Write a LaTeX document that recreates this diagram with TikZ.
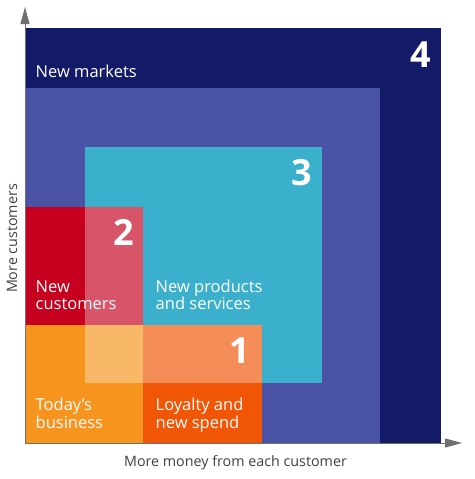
\documentclass[tikz,border=0pt]{standalone}
\usepackage{fontspec}
\setmainfont{Open Sans}
\usetikzlibrary{arrows.meta}
\definecolor{navyq}{RGB}{19,27,105}
\definecolor{midq}{RGB}{74,83,165}
\definecolor{cyanq}{RGB}{59,176,205}
\definecolor{redq}{RGB}{198,0,30}
\definecolor{orangeq}{RGB}{247,148,30}
\definecolor{dorangeq}{RGB}{240,86,5}
\definecolor{axisgray}{RGB}{112,112,112}
\definecolor{axistext}{RGB}{64,64,64}
\begin{document}
\begin{tikzpicture}[x=1pt,y=-1pt,
  lbl/.style={text=white,font=\fontsize{16.5}{18}\selectfont,inner sep=0,anchor=base west},
  num/.style={text=white,font=\fontsize{36}{36}\selectfont\bfseries,inner sep=0,anchor=base east},
  axisline/.style={draw=axisgray,line width=1pt,-{Triangle[length=17pt,width=9pt]}},
  axlbl/.style={text=axistext,font=\fontsize{14.3}{16}\selectfont,inner sep=0,anchor=base},
  overlay/.style={fill=white,opacity=0.33}]
\useasboundingbox[fill=white] (0,0) rectangle (474,479);
% squares
\fill[navyq] (25,28) rectangle (441,443);
\fill[midq] (25,88) rectangle (380,443);
\fill[cyanq] (85,147) rectangle (322,383);
\fill[redq] (25,207) rectangle (143,325);
\fill[orangeq] (25,325) rectangle (143,443);
\fill[dorangeq] (143,325) rectangle (262,443);
\fill[overlay] (85,207) rectangle (143,383);
\fill[overlay] (143,325) rectangle (262,383);
% axes
\coordinate (o) at (25,443);
\coordinate (ytip) at (25,7);
\coordinate (xtip) at (462,443);
\draw[axisline] (o) -- (ytip);
\draw[axisline] (o) -- (xtip);
\node[axlbl] (xl) at (235.5,466) {More money from each customer};
\node[axlbl,rotate=90] (yl) at (17,238.5) {More customers};
% labels
\node[lbl] (nm) at (35.5,77) {New markets};
\node[lbl] (nc1) at (35.5,292) {New};
\node[lbl] (nc2) at (35.5,309.5) {customers};
\node[lbl] (np1) at (155.5,292) {New products};
\node[lbl] (np2) at (155.5,309.5) {and services};
\node[lbl] (tb1) at (35.5,410.5) {Today's};
\node[lbl] (tb2) at (35.5,428) {business};
\node[lbl] (ly1) at (155.5,410.5) {Loyalty and};
\node[lbl] (ly2) at (155.5,428) {new spend};
% numbers
\node[num] (n4) at (431.5,67) {4};
\node[num] (n3) at (312.5,185) {3};
\node[num] (n2) at (134.5,245) {2};
\node[num] (n1) at (250,363) {1};
\end{tikzpicture}
\end{document}
